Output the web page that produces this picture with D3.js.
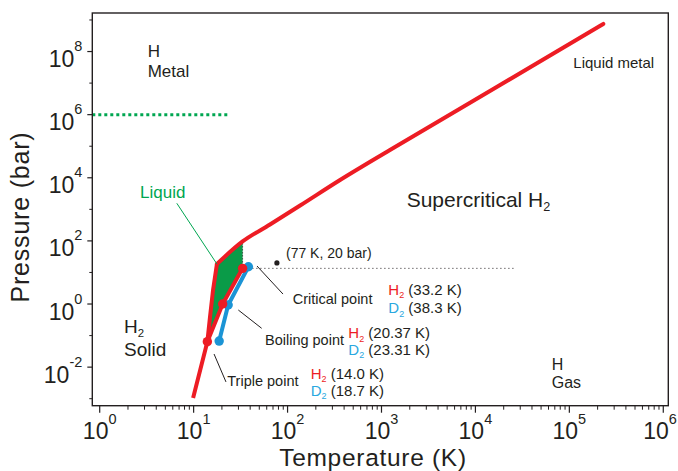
<!DOCTYPE html>
<html>
<head>
<meta charset="utf-8">
<script src="https://cdn.jsdelivr.net/npm/d3@7"></script>
<style>
  html, body { margin: 0; padding: 0; background: #fff; }
  svg { display: block; font-family: "Liberation Sans", Arial, Helvetica, sans-serif; }
</style>
</head>
<body>
<svg id="chart" width="678" height="471"></svg>
<script>
// ---- data -------------------------------------------------------------
// Melting / sublimation curve of H2 continuing into the liquid-metal boundary
const meltT = [9.87, 14.0, 14.9, 16.1, 17.7, 33.2, 65, 136, 362, 1230, 18300, 230000];
const meltP = [1.05e-3, 0.064, 0.36, 2.78, 18.5, 96, 330, 1320, 8500, 7.6e4, 8.7e6, 7.5e8];
const kinkIndex = 4;

// Liquid-vapour lines: triple point, boiling point, critical point
const h2T = [14.0, 20.37, 33.2];
const h2P = [0.064, 1.0, 13.5];
const d2T = [18.7, 23.31, 38.3];
const d2P = [0.067, 0.93, 15.2];

// Molecular -> metallic transition pressure (bar)
const metalT = [0.834, 23.1];
const metalP = [1e6, 1e6];

// Reference point for liquid-nitrogen temperature
const refT = [77];
const refP = [20];

// Isobar through the critical pressure
const isoT = [38.3, 26400];
const isoP = [13.5, 13.5];

// Axis ticks
const tempTicks = [1, 10, 100, 1e3, 1e4, 1e5, 1e6];
const tempExp = ["0", "1", "2", "3", "4", "5", "6"];
const pressTicks = [1e-2, 1, 1e2, 1e4, 1e6, 1e8];
const pressExp = ["-2", "0", "2", "4", "6", "8"];
const pressMinor = [1e-3, 1e-1, 1e1, 1e3, 1e5, 1e7, 1e9];

// ---- layout -----------------------------------------------------------
const W = 678;
const svg = d3.select("#chart");
const L = 92.3, R = 668.3, T = 13, B = 405.7;
const x = d3.scaleLog().domain([0.834, 1.131e6]).range([L, R]);
const y = d3.scaleLog().domain([6.0e-4, 1.664e9]).range([B, T]);

const RED = "#ed1c24", BLUE = "#1b94d5", BLUE_TXT = "#29a8e0";
const GREEN = "#0a9b48", GREEN_TXT = "#00a651", INK = "#231f20";

const pts = (ts, ps) => ts.map((t, i) => [t, ps[i]]);
const line = d3.line().x(d => x(d[0])).y(d => y(d[1]));
const smooth = d3.line().x(d => x(d[0])).y(d => y(d[1])).curve(d3.curveMonotoneX);

// ---- liquid region ----------------------------------------------------
const meltPts = pts(meltT, meltP);
const liquidPoly = meltPts.slice(1, 6).concat([[h2T[2], h2P[2]], [h2T[1], h2P[1]], [h2T[0], h2P[0]]]);
svg.append("path")
  .attr("d", line(liquidPoly) + "Z")
  .attr("fill", GREEN).attr("stroke", "none");

// vertical dotted line at the critical temperature
svg.append("path")
  .attr("d", line([[h2T[2], h2P[2]], [meltT[5], meltP[5]]]))
  .attr("stroke", INK).attr("stroke-width", 1).attr("stroke-dasharray", "1,2").attr("fill", "none");

// critical isobar
svg.append("path")
  .attr("d", line(pts(isoT, isoP)))
  .attr("stroke", INK).attr("stroke-width", 1).attr("stroke-dasharray", "1,3").attr("fill", "none");

// metallic transition
svg.append("path")
  .attr("d", line(pts(metalT, metalP)))
  .attr("stroke", GREEN_TXT).attr("stroke-width", 3).attr("stroke-dasharray", "3,3").attr("fill", "none");

// ---- frame & axes -----------------------------------------------------
svg.append("rect").attr("x", L).attr("y", T).attr("width", R - L).attr("height", B - T)
  .attr("fill", "none").attr("stroke", INK).attr("stroke-width", 1.4);

const gx = svg.append("g").attr("transform", `translate(0,${B})`);
const xMinor = [];
for (let e = 0; e < 6; e++) for (let k = 2; k <= 9; k++) xMinor.push(k * Math.pow(10, e));
gx.selectAll("line.minor").data(xMinor).join("line")
  .attr("x1", d => x(d)).attr("x2", d => x(d)).attr("y1", 0).attr("y2", 4)
  .attr("stroke", INK).attr("stroke-width", 1);
gx.selectAll("line.major").data(tempTicks).join("line")
  .attr("x1", d => x(d)).attr("x2", d => x(d)).attr("y1", 0).attr("y2", 7)
  .attr("stroke", INK).attr("stroke-width", 1.2);
const xl = gx.selectAll("text").data(tempTicks).join("text")
  .attr("x", d => Math.min(x(d), W - 18)).attr("y", 33)
  .attr("text-anchor", "middle").attr("fill", INK).attr("font-size", 23);
xl.append("tspan").text("10");
xl.append("tspan").attr("font-size", 14.5).attr("dy", -15).text((d, i) => tempExp[i]);

const gy = svg.append("g").attr("transform", `translate(${L},0)`);
gy.selectAll("line.minor").data(pressMinor).join("line")
  .attr("x1", -3).attr("x2", 0).attr("y1", d => y(d)).attr("y2", d => y(d))
  .attr("stroke", INK).attr("stroke-width", 1);
gy.selectAll("line.major").data(pressTicks).join("line")
  .attr("x1", -5).attr("x2", 0).attr("y1", d => y(d)).attr("y2", d => y(d))
  .attr("stroke", INK).attr("stroke-width", 1.2);
const yl = gy.selectAll("text").data(pressTicks).join("text")
  .attr("x", -10).attr("y", d => y(d) + 15.5)
  .attr("text-anchor", "end").attr("fill", INK).attr("font-size", 23);
yl.append("tspan").text("10");
yl.append("tspan").attr("font-size", 14.5).attr("dy", -16).text((d, i) => pressExp[i]);

svg.append("text").attr("x", 373).attr("y", 466).attr("text-anchor", "middle")
  .attr("font-size", 24.5).attr("letter-spacing", 0.7).attr("fill", INK).text("Temperature (K)");
svg.append("text").attr("transform", "translate(29,217) rotate(-90)").attr("text-anchor", "middle")
  .attr("font-size", 25).attr("letter-spacing", 0.8).attr("fill", INK).text("Pressure (bar)");

// ---- phase boundaries -------------------------------------------------
// steep solid boundary up to the kink, then the smooth fluid/solid line
svg.append("path").attr("d", line(meltPts.slice(0, kinkIndex + 1)))
  .attr("fill", "none").attr("stroke", RED).attr("stroke-width", 4).attr("stroke-linejoin", "round");
svg.append("path").attr("d", smooth(meltPts.slice(kinkIndex)))
  .attr("fill", "none").attr("stroke", RED).attr("stroke-width", 4).attr("stroke-linejoin", "round")
  .attr("stroke-linecap", "round");

svg.append("path").attr("d", line(pts(d2T, d2P)))
  .attr("fill", "none").attr("stroke", BLUE).attr("stroke-width", 4);
svg.selectAll("circle.d2").data(pts(d2T, d2P)).join("circle")
  .attr("cx", d => x(d[0])).attr("cy", d => y(d[1])).attr("r", 4.7).attr("fill", BLUE);

svg.append("path").attr("d", line(pts(h2T, h2P)))
  .attr("fill", "none").attr("stroke", RED).attr("stroke-width", 4);
svg.selectAll("circle.h2").data(pts(h2T, h2P)).join("circle")
  .attr("cx", d => x(d[0])).attr("cy", d => y(d[1])).attr("r", 4.7).attr("fill", RED);

svg.selectAll("circle.ref").data(pts(refT, refP)).join("circle")
  .attr("cx", d => x(d[0])).attr("cy", d => y(d[1])).attr("r", 2.6).attr("fill", INK);

// ---- leader lines -----------------------------------------------------
const leaders = [
  { c: GREEN_TXT, p: [[6.62, 1556], [17.7, 18.5]] },
  { c: INK, p: [[47.3, 16.0], [89.4, 2.07]] },
  { c: INK, p: [[29.9, 0.645], [53.0, 0.17]] },
  { c: INK, p: [[16.5, 0.026], [22.1, 0.0034]] }
];
leaders.forEach(l => svg.append("path").attr("d", line(l.p))
  .attr("stroke", l.c).attr("stroke-width", 1).attr("fill", "none"));

// ---- text labels ------------------------------------------------------
function label(tx, ty, size, color) {
  return svg.append("text").attr("x", tx).attr("y", ty).attr("font-size", size).attr("fill", color || INK);
}
function withSub(t, base, size, color) {
  t.append("tspan").attr("fill", color).text(base);
  t.append("tspan").attr("fill", color).attr("font-size", size * 0.6).attr("dy", size * 0.22).text("2");
}

label(147.7, 57.3, 17).text("H");
label(147.7, 77.3, 17).text("Metal");
label(140, 198.3, 17, GREEN_TXT).text("Liquid");
label(573.3, 68, 15).text("Liquid metal");
label(551.7, 370, 16).text("H");
label(551.7, 388.3, 16).text("Gas");

const sc = label(406.7, 206.7, 21);
sc.append("tspan").text("Supercritical ");
withSub(sc, "H", 21, INK);

withSub(label(124, 333.3, 19), "H", 19, INK);
label(124, 356, 19).text("Solid");

label(286, 258.3, 14).text("(77 K, 20 bar)");

const notes = [
  { name: "Critical point", nx: 292.7, ny: 304, sx: 388.3, h2y: 295, d2y: 313.3, h2: "(33.2 K)", d2: "(38.3 K)" },
  { name: "Boiling point", nx: 265, ny: 345, sx: 348.3, h2y: 338.3, d2y: 355, h2: "(20.37 K)", d2: "(23.31 K)" },
  { name: "Triple point", nx: 227.3, ny: 385.7, sx: 310.7, h2y: 379, d2y: 396, h2: "(14.0 K)", d2: "(18.7 K)" }
];
notes.forEach(n => {
  label(n.nx, n.ny, 14.5).text(n.name);
  const a = label(n.sx, n.h2y, 15);
  withSub(a, "H", 15, RED);
  a.append("tspan").attr("dy", -15 * 0.22).attr("fill", INK).text(" " + n.h2);
  const b = label(n.sx, n.d2y, 15);
  withSub(b, "D", 15, BLUE_TXT);
  b.append("tspan").attr("dy", -15 * 0.22).attr("fill", INK).text(" " + n.d2);
});
</script>
</body>
</html>
